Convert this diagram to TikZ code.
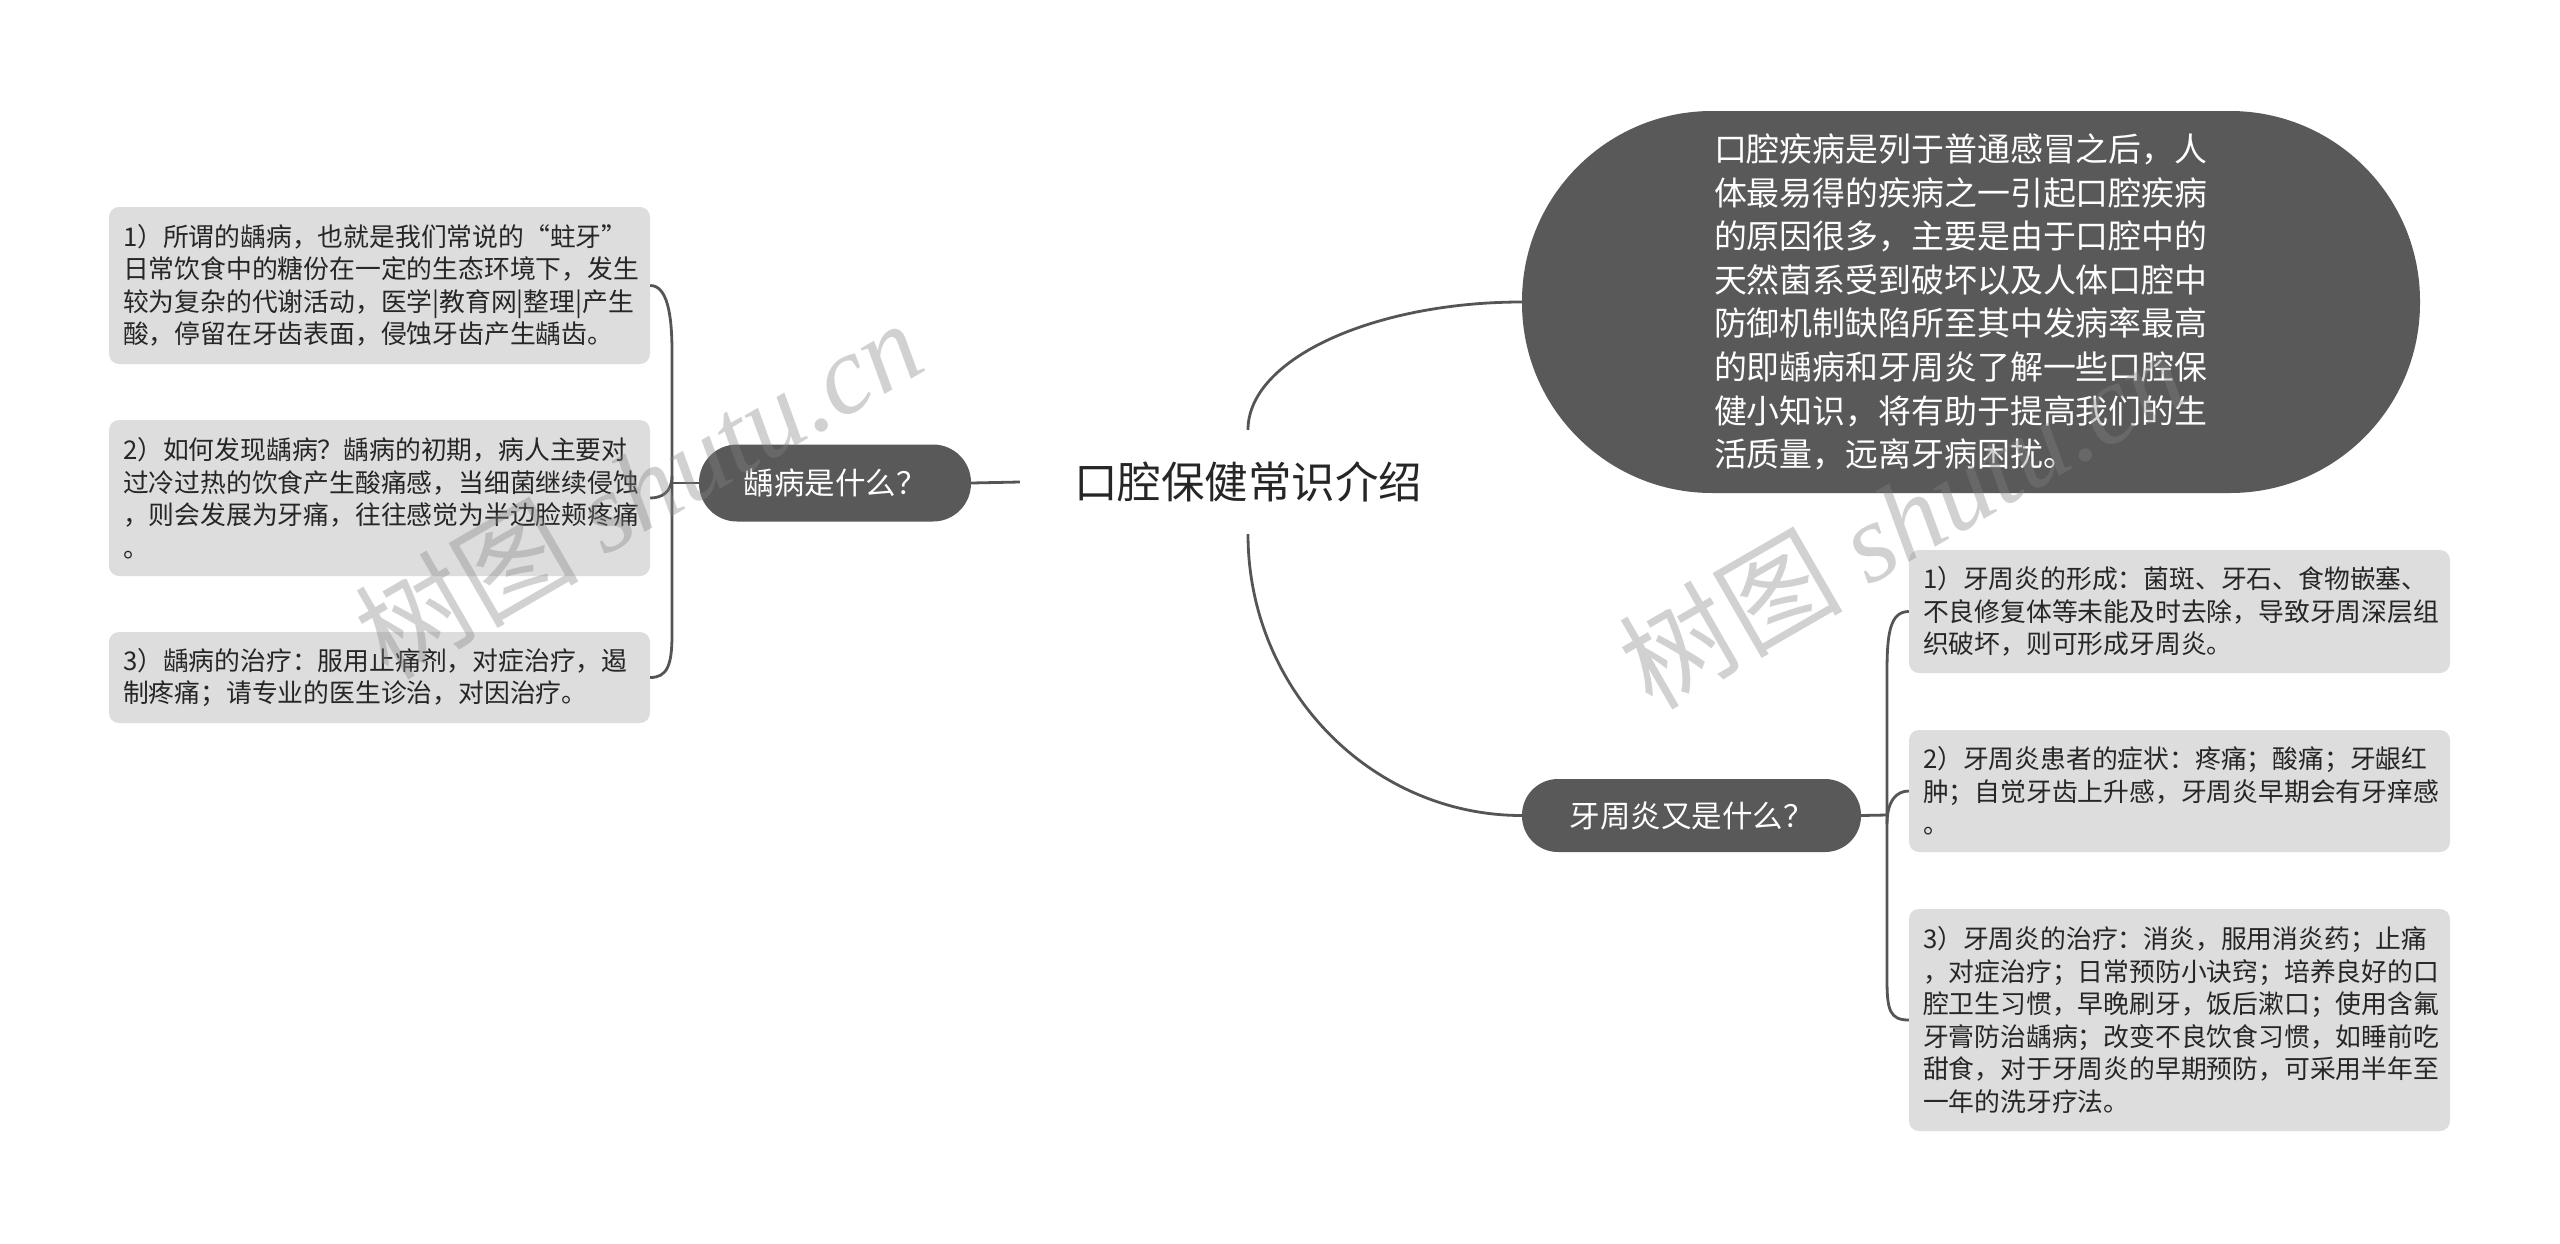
\documentclass[tikz,border=0pt]{standalone}
\usepackage{fontspec}
\setmainfont{Noto Sans CJK SC}
\newfontfamily\wmfont{Liberation Serif}
\usetikzlibrary{calc}
\definecolor{pillc}{HTML}{595959}
\definecolor{leaffill}{HTML}{DDDDDD}
\definecolor{linec}{HTML}{555555}
\definecolor{txt}{HTML}{262626}
\definecolor{wmc}{RGB}{132,132,132}
\begin{document}
\begin{tikzpicture}[x=1pt,y=-1pt,
  conn/.style={draw=linec, line width=2.8pt},
  leaf/.style={rectangle, rounded corners=10pt, fill=leaffill, text=txt, align=left,
    text width=513pt, inner xsep=14pt, inner ysep=0pt, minimum width=541pt,
    font=\fontsize{25.8pt}{32.5pt}\selectfont},
  pillbox/.style={rectangle, fill=pillc, text=white, inner sep=0pt,
    font=\fontsize{30.5pt}{36pt}\selectfont},
  bigpill/.style={rectangle, fill=pillc, text=white, inner sep=0pt, align=left,
    text width=514pt, minimum width=898pt, minimum height=382pt, rounded corners=190pt,
    font=\fontsize{32.9pt}{43.6pt}\selectfont},
  rootbox/.style={rectangle, inner sep=0pt, minimum width=456pt, minimum height=104pt,
    text=black!85, font=\fontsize{43.5pt}{50pt}\selectfont},
  wmark/.style={text=wmc, text opacity=0.37, inner sep=0pt,
    font=\fontsize{112pt}{120pt}\selectfont}
]
\useasboundingbox[fill=white] (0,0) rectangle (2560,1243);

% root
\node[rootbox] (c) at (1248,482) {口腔保健常识介绍};

% main branches
\node[bigpill] (ell) at (1971,302) {口腔疾病是列于普通感冒之后，人\\
体最易得的疾病之一引起口腔疾病\\
的原因很多，主要是由于口腔中的\\
天然菌系受到破坏以及人体口腔中\\
防御机制缺陷所至其中发病率最高\\
的即龋病和牙周炎了解一些口腔保\\
健小知识，将有助于提高我们的生\\
活质量，远离牙病困扰。};

\node[pillbox, minimum width=272pt, minimum height=77pt, rounded corners=38pt] (pl) at (835,483) {龋病是什么？};
\node[pillbox, minimum width=339pt, minimum height=73pt, rounded corners=36pt] (py) at (1691.5,815.5) {牙周炎又是什么？};

% left leaves
\node[leaf, minimum height=157pt] (l1) at (379.5,285.5) {1）所谓的龋病，也就是我们常说的“蛀牙”\\
日常饮食中的糖份在一定的生态环境下，发生\\
较为复杂的代谢活动，医学|教育网|整理|产生\\
酸，停留在牙齿表面，侵蚀牙齿产生龋齿。};
\node[leaf, minimum height=156pt] (l2) at (379.5,498) {2）如何发现龋病？龋病的初期，病人主要对\\
过冷过热的饮食产生酸痛感，当细菌继续侵蚀\\
，则会发展为牙痛，往往感觉为半边脸颊疼痛\\
。};
\node[leaf, minimum height=91pt] (l3) at (379.5,677.5) {3）龋病的治疗：服用止痛剂，对症治疗，遏\\
制疼痛；请专业的医生诊治，对因治疗。};

% right leaves
\node[leaf, minimum height=123pt] (r1) at (2179.5,611.5) {1）牙周炎的形成：菌斑、牙石、食物嵌塞、\\
不良修复体等未能及时去除，导致牙周深层组\\
织破坏，则可形成牙周炎。};
\node[leaf, minimum height=122pt] (r2) at (2179.5,791) {2）牙周炎患者的症状：疼痛；酸痛；牙龈红\\
肿；自觉牙齿上升感，牙周炎早期会有牙痒感\\
。};
\node[leaf, minimum height=222pt] (r3) at (2179.5,1020) {3）牙周炎的治疗：消炎，服用消炎药；止痛\\
，对症治疗；日常预防小诀窍；培养良好的口\\
腔卫生习惯，早晚刷牙，饭后漱口；使用含氟\\
牙膏防治龋病；改变不良饮食习惯，如睡前吃\\
甜食，对于牙周炎的早期预防，可采用半年至\\
一年的洗牙疗法。};

% connectors from root
\draw[conn] (c.north) .. controls ($(c.north)+(0,-71)$) and ($(ell.west)+(-148,0)$) .. (ell.west);
\draw[conn] (c.south) .. controls ($(c.south)+(0,155)$) and ($(py.west)+(-151,0)$) .. (py.west);
\draw[conn] (pl.east) -- (c.west);

% left bracket
\coordinate (jl) at (672,483);
\draw[conn] (pl.west) -- (jl);
\draw[conn] (l1.east) .. controls +(17,0) and +(0,-38) .. (672,352) -- (672,635) .. controls +(0,30) and +(17,0) .. (l3.east);
\draw[conn] (672,476) .. controls (672,492) and (662,498) .. (l2.east);

% right bracket
\coordinate (jr) at (1887,815);
\draw[conn] (py.east) -- (jr);
\draw[conn] (r1.west) .. controls +(-19,0) and +(0,-38) .. (1887,672) -- (1887,980) .. controls +(0,30) and +(-19,0) .. (r3.west);
\draw[conn] (1887,824) .. controls (1887,800) and (1897,791) .. (r2.west);

% watermarks
\node[wmark, rotate=30] (wm1) at (638,488) {树图 {\wmfont\itshape shutu.cn}};
\node[wmark, rotate=30] (wm2) at (1902,518) {树图 {\wmfont\itshape shutu.cn}};
\end{tikzpicture}
\end{document}
